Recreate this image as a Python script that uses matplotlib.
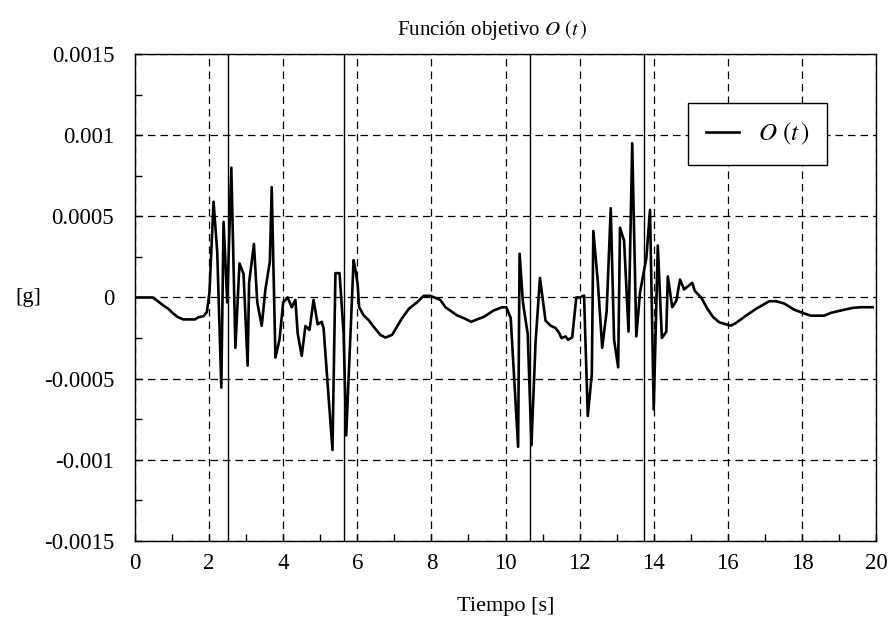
import numpy as np
import matplotlib
matplotlib.use('Agg')
from matplotlib import pyplot as plt
from matplotlib.ticker import MultipleLocator

plt.rcParams['font.family'] = ['Liberation Serif', 'DejaVu Serif']
plt.rcParams['mathtext.fontset'] = 'stix'

# datos
tiempo = [
    0.0, 0.2, 0.48, 0.6, 0.77, 0.9, 1.04, 1.15, 1.3, 1.5, 1.62, 1.71, 1.85, 1.94,
    2.01, 2.12, 2.22, 2.33, 2.39, 2.49, 2.60, 2.71, 2.82, 2.93, 3.04, 3.08, 3.21,
    3.30, 3.42, 3.52, 3.64, 3.69, 3.79, 3.90, 4.00, 4.12, 4.23, 4.33, 4.39, 4.50,
    4.60, 4.71, 4.82, 4.93, 5.04, 5.09, 5.33, 5.41, 5.52, 5.63, 5.70, 5.90, 5.95,
    6.01, 6.05, 6.17, 6.31, 6.44, 6.62, 6.76, 6.94, 7.07, 7.2, 7.39, 7.61, 7.79,
    7.97, 8.24, 8.38, 8.69, 8.92, 9.07, 9.23, 9.41, 9.68, 9.91, 10.02, 10.14,
    10.34, 10.38, 10.47, 10.60, 10.70, 10.81, 10.93, 11.08, 11.22, 11.35, 11.44,
    11.51, 11.62, 11.69, 11.80, 11.91, 12.01, 12.12, 12.22, 12.33, 12.37, 12.49,
    12.61, 12.73, 12.84, 12.93, 13.04, 13.09, 13.20, 13.32, 13.42, 13.53, 13.63,
    13.74, 13.80, 13.90, 14.00, 14.11, 14.22, 14.34, 14.38, 14.50, 14.61, 14.71,
    14.82, 15.04, 15.11, 15.28, 15.45, 15.6, 15.77, 16.08, 16.22, 16.49, 16.76,
    17.12, 17.30, 17.52, 17.79, 18.02, 18.24, 18.6, 18.78, 19.05, 19.37, 19.6,
    19.91,
]
objetivo = [
    0.0, 0.0, 0.0, -0.00002, -0.00005, -0.00007, -0.0001, -0.00012, -0.000135,
    -0.000135, -0.000135, -0.000122, -0.000115, -0.00009,
    0.00003, 0.00059, 0.00028, -0.000555, 0.000466, -0.00003, 0.0008, -0.00031,
    0.00021, 0.000145, -0.00042, 0.00009, 0.00033,
    -0.00003, -0.000175, 0.00005, 0.00022, 0.00068, -0.00037, -0.00026, -0.00003,
    0.0, -0.00006, -0.000015, -0.00022, -0.00036,
    -0.000175, -0.0002, -0.000015, -0.000165, -0.00015, -0.00019, -0.00094,
    0.00015, 0.00015, -0.00022, -0.00085, 0.00023, 0.00017,
    0.00008, -0.00006, -0.00011, -0.00014, -0.00018, -0.00023, -0.000247,
    -0.00023, -0.00018, -0.00013, -0.00007, -0.00003, 0.00001,
    0.00001, -0.000015, -0.00006, -0.00011, -0.000132, -0.00015, -0.000135,
    -0.00012, -0.00008, -0.00006, -0.00006, -0.000126,
    -0.00092, 0.00027, -0.00003, -0.000226, -0.00091, -0.00028, 0.00012,
    -0.000143, -0.000174, -0.000188, -0.000215,
    -0.00025, -0.00024, -0.00026, -0.000246, 0.0, 0.0, 0.000012, -0.00073,
    -0.00047, 0.00041, 0.0001,
    -0.00031, -0.000085, 0.00055, -0.00026, -0.00043, 0.00043, 0.00035,
    -0.00021, 0.00095, -0.00024, 0.00003,
    0.00017, 0.00024, 0.00054, -0.00069, 0.00032, -0.00025, -0.00021, 0.00013,
    -0.00006, -0.00002, 0.00011,
    0.00005, 0.00009, 0.00004, 0.0, -0.00007, -0.00012, -0.000153, -0.000174,
    -0.000157, -0.000112, -0.00007,
    -0.000023, -0.000023, -0.000037, -0.000075, -0.000095, -0.000112, -0.000112,
    -0.000095, -0.00008, -0.000064, -0.00006,
    -0.00006,
]
marcas_t = [2.5, 5.63, 10.67, 13.74]

x_ticks = [0, 2, 4, 6, 8, 10, 12, 14, 16, 18, 20]
y_ticks = [-0.0015, -0.001, -0.0005, 0, 0.0005, 0.001, 0.0015]
y_labels = ['-0.0015', '-0.001', '-0.0005', '0', '0.0005', '0.001', '0.0015']

fig = plt.figure(figsize=(8.91, 6.30), dpi=100)
ax = fig.add_axes([0.1515, 0.1413, 0.8317, 0.773])

ax.grid(True, color='black', linestyle=(0, (6, 4)), linewidth=0.9)
for tm in marcas_t:
    ax.axvline(tm, color='black', linewidth=1.0)

ax.plot(tiempo, objetivo, color='black', linewidth=1.9, label=r'$O\ (t\,)$')

ax.set_xlim(0, 20)
ax.set_ylim(-0.0015, 0.0015)
ax.set_xticks(x_ticks)
ax.set_yticks(y_ticks)
ax.set_yticklabels(y_labels)
ax.xaxis.set_minor_locator(MultipleLocator(1))
ax.yaxis.set_minor_locator(MultipleLocator(0.00025))
ax.tick_params(which='both', direction='in', length=5, width=1, labelsize=16.5)
ax.tick_params(axis='x', pad=9)
ax.tick_params(axis='y', pad=15)
for sp in ax.spines.values():
    sp.set_linewidth(1.0)
    sp.set_color('black')

ax.set_title(r'Función objetivo $O\ (t\,)$', fontsize=15, x=0.482, pad=14)
ax.set_xlabel('Tiempo [s]', fontsize=16)
ax.xaxis.set_label_coords(0.5, -0.115)
ax.set_ylabel('[g]', fontsize=16, rotation=0, va='center')
ax.yaxis.set_label_coords(-0.144, 0.5)

leg = ax.legend(loc='upper right', bbox_to_anchor=(0.934, 0.8994), fontsize=18,
                fancybox=False, framealpha=1, edgecolor='black', handlelength=1.3,
                borderpad=0.72, handletextpad=0.75, borderaxespad=0)
leg.get_frame().set_linewidth(1.0)

fig.savefig('out.png', dpi=100)
